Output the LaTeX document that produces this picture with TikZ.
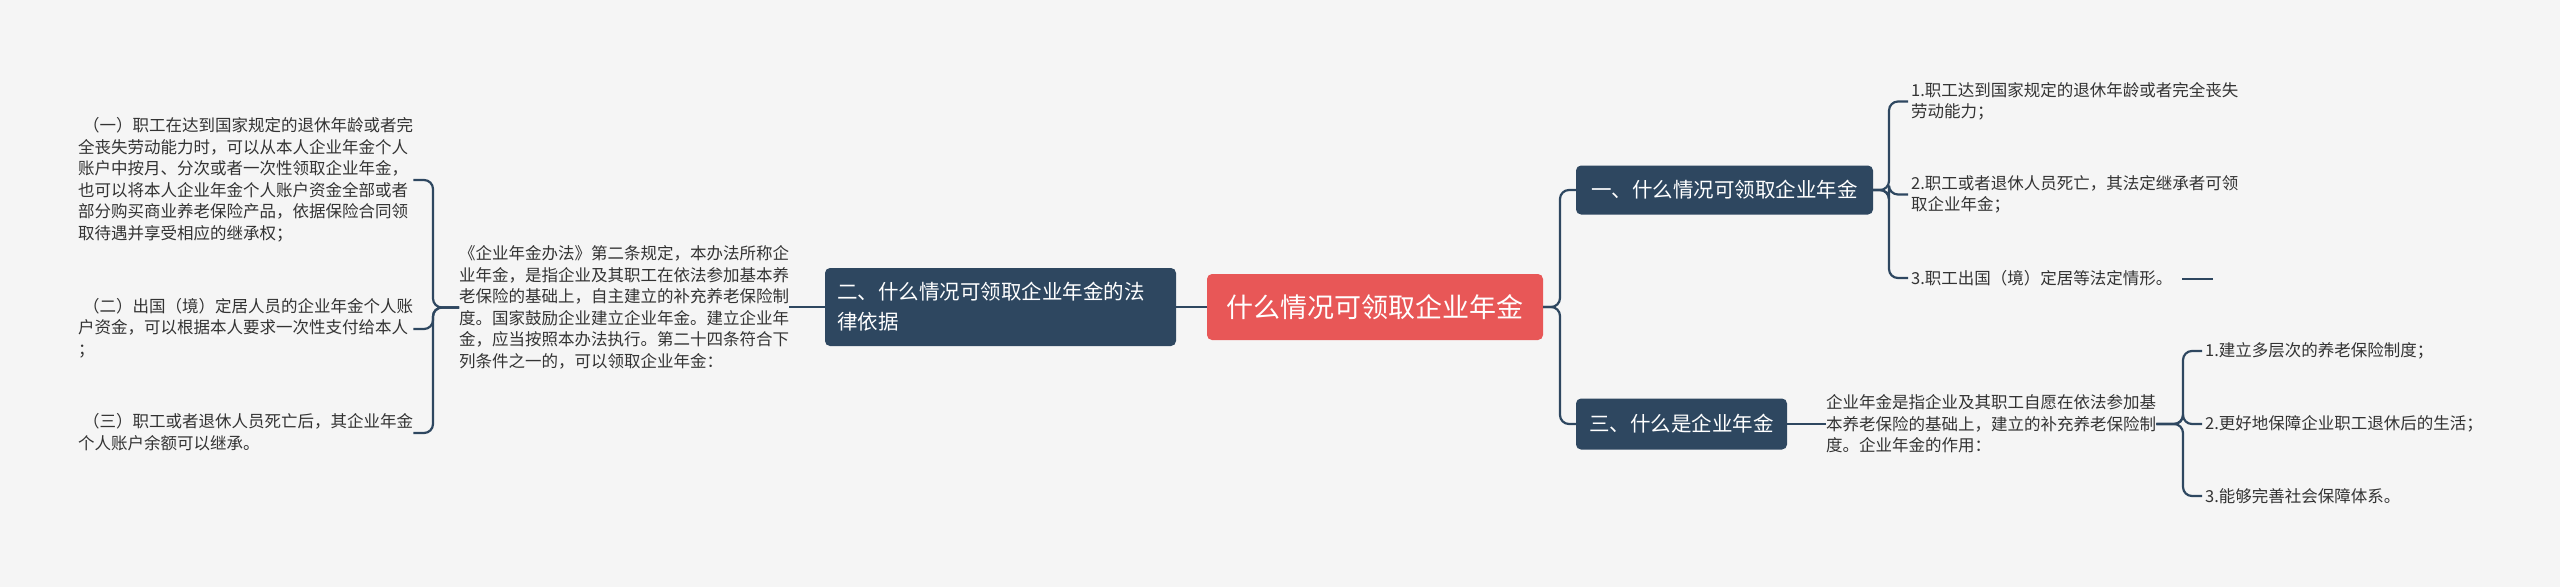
\documentclass[tikz,border=0pt]{standalone}
\usepackage{fontspec}
\setmainfont{Noto Sans CJK SC}
\definecolor{bg}{HTML}{F5F5F5}
\definecolor{dk}{HTML}{2E4760}
\definecolor{rt}{HTML}{E85757}
\definecolor{tx}{HTML}{333333}
\begin{document}
\begin{tikzpicture}[x=1pt,y=-1pt,
  txt/.style={anchor=west,inner sep=0pt,align=left,text=tx,font=\fontsize{16.5}{21.5}\selectfont},
  topic/.style={fill=dk,text=white,rounded corners=5pt,inner sep=0pt,align=left,font=\fontsize{20.5}{30}\selectfont},
  con/.style={draw=dk,line width=2.2pt,rounded corners=9pt}]
\fill[bg] (0,0) rectangle (2560,587);
\useasboundingbox (0,0) rectangle (2560,587);
\node[fill=rt,text=white,rounded corners=5pt,minimum width=336pt,minimum height=66pt,font=\fontsize{27}{32}\selectfont] (root) at (1375,307) {什么情况可领取企业年金};
\node[topic,minimum width=297pt,minimum height=49pt,align=center] (n1) at (1724.5,190) {一、什么情况可领取企业年金};
\node[topic,minimum width=211pt,minimum height=51pt,align=center] (n3) at (1681.5,424) {三、什么是企业年金};
\node[topic,minimum width=351pt,minimum height=78pt,text width=327pt] (n2) at (1000.5,307) {二、什么情况可领取企业年金的法\\律依据};
\node[txt] (m) at (459,307.5) {《企业年金办法》第二条规定，本办法所称企\\业年金，是指企业及其职工在依法参加基本养\\老保险的基础上，自主建立的补充养老保险制\\度。国家鼓励企业建立企业年金。建立企业年\\金，应当按照本办法执行。第二十四条符合下\\列条件之一的，可以领取企业年金：};
\node[txt,text width=335pt] (t1) at (78,180) {\hspace{5pt}（一）职工在达到国家规定的退休年龄或者完\\全丧失劳动能力时，可以从本人企业年金个人\\账户中按月、分次或者一次性领取企业年金，\\也可以将本人企业年金个人账户资金全部或者\\部分购买商业养老保险产品，依据保险合同领\\取待遇并享受相应的继承权；};
\node[txt,text width=335pt] (t2) at (78,328) {\hspace{5pt}（二）出国（境）定居人员的企业年金个人账\\户资金，可以根据本人要求一次性支付给本人\\；};
\node[txt,text width=335pt] (t3) at (78,432) {\hspace{5pt}（三）职工或者退休人员死亡后，其企业年金\\个人账户余额可以继承。};
\node[txt] (c1) at (1911,101.5) {1.职工达到国家规定的退休年龄或者完全丧失\\劳动能力；};
\node[txt] (c2) at (1911,194.5) {2.职工或者退休人员死亡，其法定继承者可领\\取企业年金；};
\node[txt] (c3) at (1911,278) {3.职工出国（境）定居等法定情形。};
\node[txt] (r) at (1826,424) {企业年金是指企业及其职工自愿在依法参加基\\本养老保险的基础上，建立的补充养老保险制\\度。企业年金的作用：};
\node[txt] (d1) at (2205,351) {1.建立多层次的养老保险制度；};
\node[txt] (d2) at (2205,424) {2.更好地保障企业职工退休后的生活；};
\node[txt] (d3) at (2205,496) {3.能够完善社会保障体系。};
\coordinate (dash) at (2182,279);
\draw[con] (root.east) -- (1560,307) |- (n1.west);
\draw[con] (root.east) -- (1560,307) |- (n3.west);
\draw[con] (root.west) -- (n2.east);
\draw[con] (n2.west) -- (m.east |- n2.west);
\draw[con] (m.west) -- (433,307.5) |- (t1.east);
\draw[con] (m.west) -- (433,307.5) |- ([yshift=-1pt]t2.east);
\draw[con] (m.west) -- (433,307.5) |- ([yshift=-1pt]t3.east);
\foreach \c in {c1,c2,c3} \draw[con] (n1.east) -- (1889,190) |- ([xshift=-3pt]\c.west);
\draw[con] (dash) -- ++(31,0);
\draw[con] (n3.east) -- (r.west);
\foreach \c in {d1,d2,d3} \draw[con] (r.east) -- (2183,424) |- ([xshift=-3pt]\c.west);
\end{tikzpicture}
\end{document}
